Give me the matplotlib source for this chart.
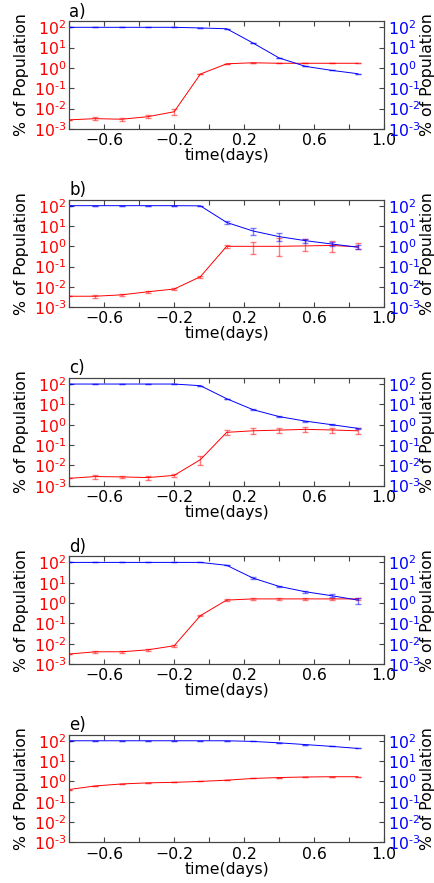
import numpy as np
import matplotlib
matplotlib.use("Agg")
import matplotlib.pyplot as plt

# time points (days)
times = [-0.8, -0.65, -0.5, -0.35, -0.2, -0.05, 0.1, 0.25, 0.4, 0.55, 0.7, 0.85]
panel_labels = ["a)", "b)", "c)", "d)", "e)"]

# red series (left axis), % of population
red_a = [2.8e-3, 3.2e-3, 3.0e-3, 4.0e-3, 7.0e-3, 0.5, 1.6, 1.8, 1.7, 1.7, 1.7, 1.7]
red_b = [3.5e-3, 3.5e-3, 4.1e-3, 5.8e-3, 7.9e-3, 0.032, 1.0, 1.0, 1.0, 1.05, 1.1, 0.95]
red_c = [2.3e-3, 2.8e-3, 2.7e-3, 2.5e-3, 3.2e-3, 0.019, 0.42, 0.5, 0.54, 0.59, 0.55, 0.5]
red_d = [3.1e-3, 4.0e-3, 4.0e-3, 5.0e-3, 7.9e-3, 0.24, 1.4, 1.6, 1.6, 1.6, 1.6, 1.6]
red_e = [0.4, 0.6, 0.75, 0.85, 0.9, 1.0, 1.15, 1.4, 1.55, 1.65, 1.7, 1.7]

# red error bars (lower, upper)
red_lo_a = [0, 0.5e-3, 0.5e-3, 0.7e-3, 2.0e-3, 0, 0, 0, 0, 0, 0, 0]
red_hi_a = [0, 0.5e-3, 0.5e-3, 0.7e-3, 2.5e-3, 0, 0, 0, 0, 0, 0, 0]
red_lo_b = [0, 0.7e-3, 0.5e-3, 0.8e-3, 0.8e-3, 3e-3, 0.15, 0.57, 0.66, 0.45, 0.55, 0.2]
red_hi_b = [0, 0.7e-3, 0.5e-3, 0.8e-3, 0.8e-3, 3e-3, 0.2, 0.64, 1.5, 1.15, 0.7, 0.45]
red_lo_c = [0, 0.6e-3, 0.4e-3, 0.5e-3, 0.5e-3, 0.009, 0.12, 0.15, 0.15, 0.15, 0.15, 0.15]
red_hi_c = [0, 0.6e-3, 0.4e-3, 0.5e-3, 0.5e-3, 0.009, 0.13, 0.15, 0.15, 0.17, 0.15, 0.17]
red_lo_d = [0, 0.5e-3, 0.5e-3, 0.6e-3, 1.0e-3, 0.02, 0.1, 0.15, 0.15, 0.15, 0.15, 0.15]
red_hi_d = [0, 0.5e-3, 0.5e-3, 0.6e-3, 1.0e-3, 0.02, 0.1, 0.15, 0.15, 0.15, 0.15, 0.15]

# blue series (right axis), % of population
blue_a = [100, 100, 100, 100, 100, 93, 85, 17, 3.1, 1.2, 0.76, 0.52]
blue_b = [100, 100, 100, 100, 100, 98, 15, 5.7, 3.0, 1.9, 1.3, 0.9]
blue_c = [100, 100, 100, 100, 100, 83, 19, 5.5, 2.5, 1.5, 1.0, 0.66]
blue_d = [100, 100, 100, 100, 100, 100, 72, 17, 6.6, 3.6, 2.3, 1.4]
blue_e = [100, 100, 100, 100, 100, 100, 100, 93, 79, 65, 53, 42]

blue_lo_b = [0, 0, 0, 0, 0, 0, 3, 2.1, 1.15, 0.4, 0.3, 0.2]
blue_hi_b = [0, 0, 0, 0, 0, 0, 3, 2.6, 1.4, 0.4, 0.4, 0.2]
blue_lo_c = [0, 0, 0, 0, 0, 0, 0, 0.3, 0.2, 0.1, 0.05, 0.05]
blue_hi_c = [0, 0, 0, 0, 0, 0, 0, 0.3, 0.2, 0.1, 0.05, 0.05]
blue_lo_d = [0, 0, 0, 0, 0, 0, 0, 1.5, 0.7, 0.4, 0.4, 0.5]
blue_hi_d = [0, 0, 0, 0, 0, 0, 0, 1.5, 0.7, 0.4, 0.4, 0.3]

reds = [red_a, red_b, red_c, red_d, red_e]
blues = [blue_a, blue_b, blue_c, blue_d, blue_e]
zeros = [0] * len(times)
red_errs = [(red_lo_a, red_hi_a), (red_lo_b, red_hi_b), (red_lo_c, red_hi_c),
            (red_lo_d, red_hi_d), (zeros, zeros)]
blue_errs = [(zeros, zeros), (blue_lo_b, blue_hi_b), (blue_lo_c, blue_hi_c),
             (blue_lo_d, blue_hi_d), (zeros, zeros)]

xtick_pos = [-0.8, -0.6, -0.4, -0.2, 0.0, 0.2, 0.4, 0.6, 0.8, 1.0]
xtick_lab = ["", "\u22120.6", "", "\u22120.2", "", "0.2", "", "0.6", "", "1.0"]
ytick_pos = [1e-3, 1e-2, 1e-1, 1e0, 1e1, 1e2]
ytick_lab = [r"$10^{\text{-}3}$", r"$10^{\text{-}2}$", r"$10^{\text{-}1}$",
             r"$10^{0}$", r"$10^{1}$", r"$10^{2}$"]

plt.rcParams["font.size"] = 11.3
plt.rcParams["xtick.direction"] = "in"
plt.rcParams["ytick.direction"] = "in"

fig = plt.figure(figsize=(4.35, 8.83), dpi=100)
left, width, height = 0.159, 0.724, 0.122
frame_col = "#444444"

for i in range(5):
    bottom = 0.046 + 0.202 * (4 - i)
    ax = fig.add_axes([left, bottom, width, height])
    ax2 = ax.twinx()

    lo, hi = red_errs[i]
    ax.errorbar(times, reds[i], yerr=[lo, hi], color="red", lw=0.7,
                ecolor=(1, 0, 0, 0.5), elinewidth=1.0, capsize=2)
    lo, hi = blue_errs[i]
    ax2.errorbar(times, blues[i], yerr=[lo, hi], color="blue", lw=0.7,
                 ecolor=(0, 0, 1, 0.5), elinewidth=1.0, capsize=2)

    for a in (ax, ax2):
        a.set_yscale("log")
        a.set_ylim(1e-3, 2e2)
        a.set_yticks(ytick_pos)
        a.set_yticklabels(ytick_lab)
        a.minorticks_off()
        a.set_ylabel("% of Population")
        for s in a.spines.values():
            s.set_color(frame_col)
    ax.set_xlim(-0.8, 1.0)
    ax.set_xticks(xtick_pos)
    ax.set_xticklabels(xtick_lab)
    ax.tick_params(axis="y", labelcolor="red", color=frame_col, pad=2)
    ax.tick_params(axis="x", top=True, color=frame_col, pad=3)
    ax2.tick_params(axis="y", labelcolor="blue", color=frame_col, pad=3)
    ax.set_xlabel("time(days)", labelpad=0)
    ax.yaxis.set_label_coords(-0.127, 0.5)
    ax2.yaxis.set_label_coords(1.114, 0.5)
    ax.text(0.0, 1.005, panel_labels[i], transform=ax.transAxes,
            ha="left", va="bottom", fontsize=12)

fig.savefig("out.png", dpi=100)
